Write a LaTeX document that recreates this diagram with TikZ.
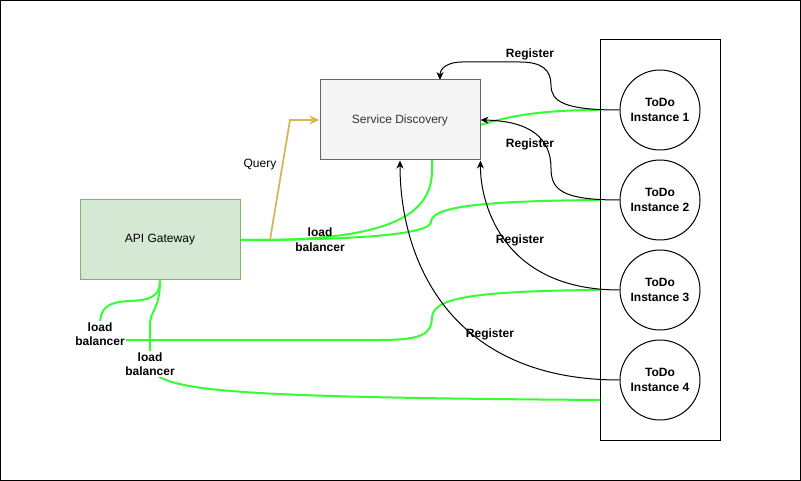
\documentclass[tikz,border=0pt]{standalone}
\usepackage{fontspec}
\setmainfont{Liberation Sans}
\usetikzlibrary{arrows.meta,backgrounds}
\definecolor{lbgreen}{HTML}{33FF33}
\definecolor{sdfill}{HTML}{F5F5F5}
\definecolor{sdstroke}{HTML}{666666}
\definecolor{sdtext}{HTML}{333333}
\definecolor{gwfill}{HTML}{D5E8D4}
\definecolor{gwstroke}{HTML}{82B366}
\definecolor{qcol}{HTML}{D6B656}
\begin{document}
\begin{tikzpicture}[x=1pt,y=-1pt,
  reg/.style={draw=black, line width=1pt, -{Stealth[length=8pt,width=7pt,inset=2.5pt]}},
  lb/.style={draw=lbgreen, line width=2pt},
  lbl/.style={font=\fontsize{12}{14.5}\selectfont\bfseries, align=center, inner sep=1pt},
  inst/.style={circle, draw=black, line width=1pt, fill=white, minimum size=80pt, inner sep=0pt,
    font=\fontsize{12}{14.5}\selectfont\bfseries, align=center},
  boxnode/.style={minimum width=160pt, minimum height=80pt, inner sep=0pt, line width=1pt,
    font=\fontsize{12}{14}\selectfont}
  ]
\useasboundingbox (0,0) rectangle (801,481);
\draw[line width=1pt] (0.5,0.5) rectangle (800.5,480.5);

% nodes
\node[boxnode, draw=sdstroke, fill=sdfill, text=sdtext] (sd) at (400,120) {Service Discovery};
\node[boxnode, draw=gwstroke, fill=gwfill] (gw) at (160,240) {API Gateway};
\node[inst] (i1) at (660,110) {ToDo\\Instance 1};
\node[inst] (i2) at (660,200) {ToDo\\Instance 2};
\node[inst] (i3) at (660,290) {ToDo\\Instance 3};
\node[inst] (i4) at (660,380) {ToDo\\Instance 4};

\coordinate (q0) at (270,240);
\coordinate (sdtop) at (440,80);
\coordinate (c4) at (600,400);

% labels
\node[lbl] (r1) at (530,54.5) {Register};
\node[lbl] (r2) at (530,144.5) {Register};
\node[lbl] (r3) at (520,240.5) {Register};
\node[lbl] (r4) at (490,334.5) {Register};
\node[font=\fontsize{12}{14}\selectfont, inner sep=1pt] (ql) at (260,164.5) {Query};
\node[lbl] (lb0) at (320,239.5) {load\\balancer};
\node[lbl, fill=white] (lb1) at (100,334) {load\\balancer};
\node[lbl, fill=white] (lb2) at (150,364) {load\\balancer};

\begin{scope}[on background layer]
  \node[draw=black, line width=1pt, minimum width=120pt, minimum height=400pt, inner sep=0pt] (pool) at (660,240) {};
  % green load balancer edges
  \draw[lb] (gw.east) -- (q0) .. controls (400,238) and (432,210) .. (432,170)
     -- (432,140) .. controls (432,128) and (460,125) .. (480,125)
     .. controls (510,116) and (540,110) .. (pool.west |- i1);
  \draw[lb] (gw.east) .. controls (350,240) and (430,235) .. (431,222)
     .. controls (432,208) and (470,201) .. (pool.west |- i2);
  \draw[lb] (gw.south) .. controls (160,297) and (150,300) .. (130,301)
     .. controls (105,302) and (100,310) .. (100,325) -- (100,340) -- (380,340)
     .. controls (425,340) and (431,333) .. (432,318)
     .. controls (433,300) and (460,291) .. (pool.west |- i3);
  \draw[lb] (gw.south) .. controls (160,310) and (150,310) .. (150,325) -- (150,360)
     .. controls (150,390) and (190,397) .. (c4);
  % query
  \draw[draw=qcol, line width=1.8pt, -{Stealth[length=10pt,width=9pt,inset=3pt]}]
     (q0) -- (290,120) -- (sd.west);
  % register edges
  \draw[reg] (i1.west) .. controls (565,110) and (551,102) .. (551,85)
     .. controls (551,70) and (542,62) .. (520,62) -- (462,62)
     .. controls (448,62) and (440,68) .. (sdtop);
  \draw[reg] (i2.west) .. controls (562,200) and (551,190) .. (551,168)
     .. controls (551,138) and (530,121) .. (sd.east);
  \draw[reg] (i3.west) .. controls (500,290) and (480,200) .. (sd.south east);
  \draw[reg] (i4.west) .. controls (450,380) and (400,260) .. (sd.south);
\end{scope}
\end{tikzpicture}
\end{document}
